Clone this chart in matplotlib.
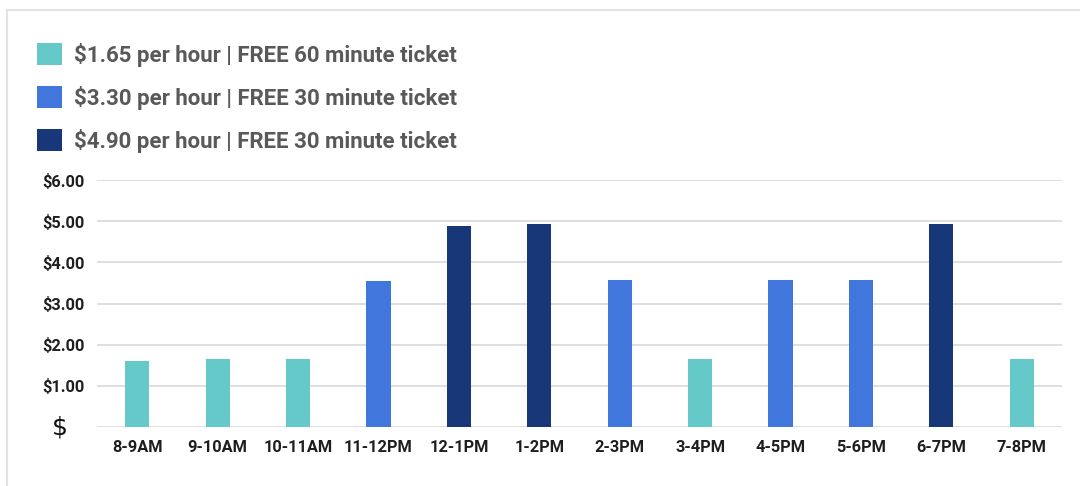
import matplotlib
matplotlib.use("Agg")
import matplotlib.pyplot as plt
from matplotlib.lines import Line2D
from matplotlib.patches import Patch
from matplotlib.transforms import blended_transform_factory, ScaledTranslation

categories = ["8-9AM", "9-10AM", "10-11AM", "11-12PM", "12-1PM", "1-2PM",
              "2-3PM", "3-4PM", "4-5PM", "5-6PM", "6-7PM", "7-8PM"]
values = [1.60, 1.65, 1.65, 3.55, 4.88, 4.93, 3.57, 1.65, 3.57, 3.57, 4.93, 1.65]
rate_group = [0, 0, 0, 1, 2, 2, 1, 0, 1, 1, 2, 0]
legend_labels = ["$1.65 per hour | FREE 60 minute ticket",
                 "$3.30 per hour | FREE 30 minute ticket",
                 "$4.90 per hour | FREE 30 minute ticket"]
yticks = [0, 1, 2, 3, 4, 5, 6]
ytick_labels = ["$", "$1.00", "$2.00", "$3.00", "$4.00", "$5.00", "$6.00"]

colors = ["#66C9C9", "#4177DD", "#173779"]

W, H = 1080, 486
fig = plt.figure(figsize=(W / 100, H / 100), dpi=100)
fig.patch.set_facecolor("white")

left, right, bottom, top = 97, 1062, 486 - 427, 486 - 180
ax = fig.add_axes([left / W, bottom / H, (right - left) / W, (top - bottom) / H])

x = list(range(len(categories)))
ax.bar(x, values, width=0.3, color=[colors[g] for g in rate_group], zorder=3)
ax.set_xlim(-0.5, len(categories) - 0.5)
ax.set_ylim(0, 6)

ax.set_yticks(yticks)
ax.set_yticklabels([""] + ytick_labels[1:])
ax.set_xticks(x)
ax.set_xticklabels(categories)
for s in ax.spines.values():
    s.set_visible(False)
ax.tick_params(axis="both", length=0)
ax.tick_params(axis="x", pad=9)
ax.tick_params(axis="y", pad=9)
ax.yaxis.grid(True, color="#d9d9d9", linewidth=1.2, zorder=0)
ax.set_axisbelow(True)

for lbl in ax.get_xticklabels() + ax.get_yticklabels():
    lbl.set_fontfamily("Roboto")
    lbl.set_fontweight("bold")
    lbl.set_fontsize(11.8)
    lbl.set_color("#1e1e1e")

# zero label "$" drawn larger and further left, like the reference
tr = blended_transform_factory(ax.transAxes, ax.transData) + \
    ScaledTranslation(-37 / 100, 0, fig.dpi_scale_trans)
ax.text(0, yticks[0], ytick_labels[0], transform=tr, ha="center", va="center",
        fontsize=18, fontfamily="DejaVu Sans", color="#111111")

# legend
handles = [Patch(facecolor=c, edgecolor="none") for c in colors]
leg = fig.legend(handles, legend_labels, loc="upper left",
                 bbox_to_anchor=(28 / W, 1 - 34 / H), frameon=False,
                 prop={"family": "Roboto", "weight": "bold", "size": 16},
                 handlelength=1.15, handleheight=1.15, handletextpad=0.5,
                 labelspacing=0.85, borderaxespad=0)
for t in leg.get_texts():
    t.set_color("#595959")

# outer frame
fig.add_artist(Line2D([7 / W, 1], [1 - 10 / H, 1 - 10 / H], color="#e3e3e3", lw=1.5))
fig.add_artist(Line2D([7 / W, 7 / W], [0, 1 - 10 / H], color="#e3e3e3", lw=1.5))

fig.savefig("out.png", dpi=100, facecolor="white")
